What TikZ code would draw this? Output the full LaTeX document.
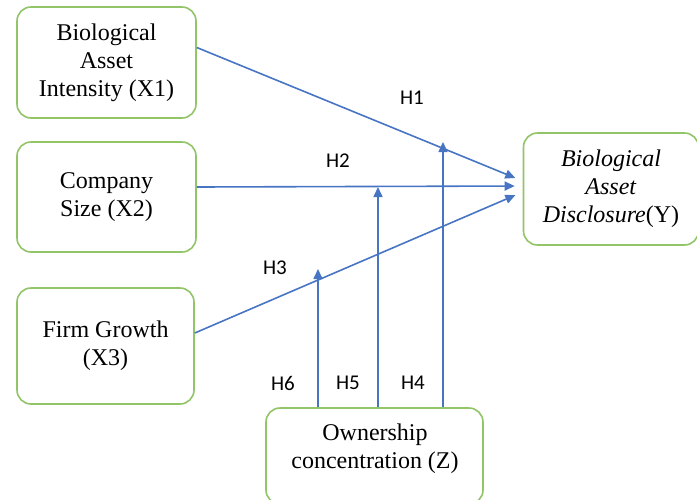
\documentclass[tikz,border=0pt]{standalone}
\usepackage{fontspec}
\setmainfont{Liberation Serif}
\newfontfamily\hfont{Carlito}
\usetikzlibrary{arrows.meta,calc}
\definecolor{boxgreen}{RGB}{146,196,104}
\definecolor{arrowblue}{RGB}{72,116,196}
\tikzstyle{varbox} = [draw=boxgreen, line width=0.8pt, rounded corners=7pt, fill=white, align=center, inner sep=0pt, font={\fontsize{12}{14}\selectfont}]
\tikzstyle{boxtext} = [anchor=center, align=center, font={\fontsize{12}{14}\selectfont}]
\tikzstyle{hyp} = [anchor=center, font={\hfont\fontsize{10.5}{12}\selectfont}]
\tikzstyle{link} = [draw=arrowblue, line width=0.8pt, -{Triangle[length=5pt,width=4.5pt]}]

\begin{document}
\begin{tikzpicture}[x=0.5pt, y=-0.5pt]
  \useasboundingbox (0,0) rectangle (697,499);

  % variable boxes
  \node[varbox, minimum width=89.5pt, minimum height=55.5pt] (x1) at (106.5,62.5) {Biological\\Asset\\Intensity (X1)};
  \node[varbox, minimum width=89.5pt, minimum height=55pt] (x2) at (106.5,197) {Company\\Size (X2)};
  \node[varbox, minimum width=88.5pt, minimum height=58pt] (x3) at (105.5,346) {Firm Growth\\(X3)};
  \node[varbox, minimum width=87.5pt, minimum height=56pt] (y) at (611,189) {\textit{Biological}\\\textit{Asset}\\\textit{Disclosure}(Y)};
  \node[varbox, minimum width=108.5pt, minimum height=48pt] (z) at (374.5,456) {};
  \node[at={(375,449)}, boxtext] (ztext) {Ownership\\concentration (Z)};

  % direct effects
  \draw[link, shorten >=4pt] ($(x1.east)+(0,-15)$) -- ($(y.west)+(0,-8)$);
  \draw[link, shorten >=4pt] ($(x2.east)+(0,-10)$) -- ($(y.west)+(0,-3)$);
  \draw[link, shorten >=4pt] ($(x3.east)+(0,-13)$) -- ($(y.west)+(0,3)$);

  % moderation
  \coordinate (h4tip) at (443,142);
  \coordinate (h5tip) at (378,187);
  \coordinate (h6tip) at (318,269);
  \draw[link] (z.north -| h4tip) -- (h4tip);
  \draw[link] (z.north -| h5tip) -- (h5tip);
  \draw[link] (z.north -| h6tip) -- (h6tip);

  \node[at={(412,98)}, hyp] (h1) {H1};
  \node[at={(338,161)}, hyp] (h2) {H2};
  \node[at={(275,268)}, hyp] (h3) {H3};
  \node[at={(413,383)}, hyp] (h4) {H4};
  \node[at={(348,383)}, hyp] (h5) {H5};
  \node[at={(283,383)}, hyp] (h6) {H6};

\end{tikzpicture}
\end{document}
